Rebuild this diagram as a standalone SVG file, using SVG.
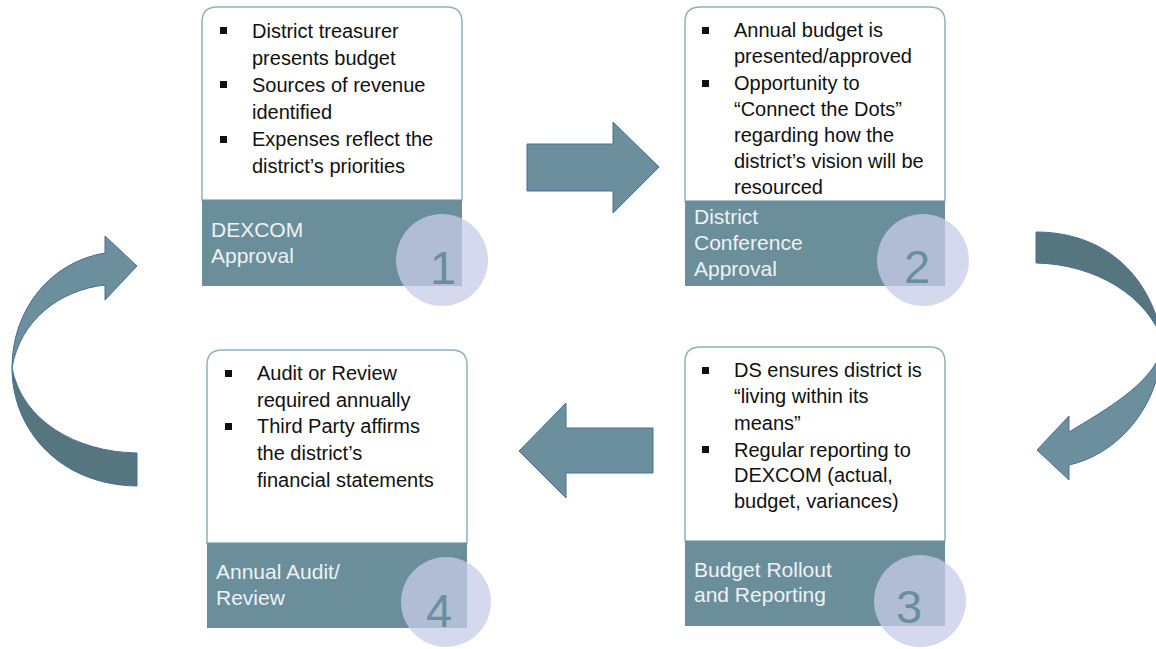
<svg xmlns="http://www.w3.org/2000/svg" width="1156" height="649" viewBox="0 0 1156 649">
<style>
.card{fill:#ffffff;stroke:#8fb0bc;stroke-width:1.5}
.band{fill:#6b8e9b}
.item{font-family:"Liberation Sans",Arial,sans-serif;font-size:20px;fill:#111111}
.lab{font-family:"Liberation Sans",Arial,sans-serif;font-size:21px;fill:#eef2f4}
.num{font-family:"Liberation Sans",Arial,sans-serif;font-size:47px;fill:#6a8f9c;text-anchor:middle}
.disc{fill:#c7cce8;fill-opacity:0.75}
.bul{fill:#111111}
.arr{fill:#6b8f9c;stroke:#4a6c9b;stroke-width:1}
.arrd{fill:#56767f;stroke:#4a6c9b;stroke-width:1}
</style>
<rect width="1156" height="649" fill="#ffffff"/>
<g id="connectors">
<path class="arr" d="M527,144 H613 V122 L659,167 L613,213 V191 H527 Z"/>
<path class="arr" d="M653,428 H566 V403 L519,451 L566,498 V473 H653 Z"/>
<path class="arrd" d="M12,368 C12,430 60,485 137,486 V453 C75,452 22,420 12,368 Z"/>
<path class="arr" d="M12,368 C12,310 50,262 105,253 V236 L137,266 L105,300 V285 C60,290 20,320 12,368 Z"/>
<path class="arrd" d="M1036,232 C1100,232 1150,270 1163,342 C1148,296 1095,264 1036,263 Z"/>
<path class="arr" d="M1163,342 C1160,380 1105,410 1069,432 V416 L1037,450 L1069,480 V465 C1115,455 1160,410 1163,342 Z"/>
</g>
<g id="node1">
<path class="card" d="M202,200 V22 Q202,7 217,7 H447 Q462,7 462,22 V200 Z"/>
<rect class="band" x="202" y="200" width="260" height="86"/>
<rect class="bul" x="220" y="27" width="7" height="7"/>
<rect class="bul" x="220" y="81" width="7" height="7"/>
<rect class="bul" x="220" y="136" width="7" height="7"/>
<text class="item" x="252" y="38">District treasurer</text>
<text class="item" x="252" y="65">presents budget</text>
<text class="item" x="252" y="92">Sources of revenue</text>
<text class="item" x="252" y="119">identified</text>
<text class="item" x="252" y="146">Expenses reflect the</text>
<text class="item" x="252" y="173">district’s priorities</text>
<text class="lab" x="211" y="237">DEXCOM</text>
<text class="lab" x="211" y="263">Approval</text>
<circle class="disc" cx="442" cy="260" r="46"/>
<text class="num" x="443" y="284">1</text>
</g>
<g id="node2">
<path class="card" d="M685,201 V22 Q685,7 700,7 H930 Q945,7 945,22 V201 Z"/>
<rect class="band" x="685" y="201" width="260" height="85"/>
<rect class="bul" x="702" y="27" width="7" height="7"/>
<rect class="bul" x="702" y="80" width="7" height="7"/>
<text class="item" x="734" y="37">Annual budget is</text>
<text class="item" x="734" y="63">presented/approved</text>
<text class="item" x="734" y="90">Opportunity to</text>
<text class="item" x="734" y="116">“Connect the Dots”</text>
<text class="item" x="734" y="142">regarding how the</text>
<text class="item" x="734" y="168">district’s vision will be</text>
<text class="item" x="734" y="194">resourced</text>
<text class="lab" x="694" y="224">District</text>
<text class="lab" x="694" y="250">Conference</text>
<text class="lab" x="694" y="276">Approval</text>
<circle class="disc" cx="923" cy="260" r="46"/>
<text class="num" x="917" y="283">2</text>
</g>
<g id="node3">
<path class="card" d="M685,541 V362 Q685,347 700,347 H930 Q945,347 945,362 V541 Z"/>
<rect class="band" x="685" y="541" width="260" height="85"/>
<rect class="bul" x="702" y="367" width="7" height="7"/>
<rect class="bul" x="702" y="446" width="7" height="7"/>
<text class="item" x="734" y="377">DS ensures district is</text>
<text class="item" x="734" y="403">“living within its</text>
<text class="item" x="734" y="430">means”</text>
<text class="item" x="734" y="457">Regular reporting to</text>
<text class="item" x="734" y="482">DEXCOM (actual,</text>
<text class="item" x="734" y="508">budget, variances)</text>
<text class="lab" x="694" y="577">Budget Rollout</text>
<text class="lab" x="694" y="602">and Reporting</text>
<circle class="disc" cx="920" cy="601" r="46"/>
<text class="num" x="909" y="623">3</text>
</g>
<g id="node4">
<path class="card" d="M207,543 V365 Q207,350 222,350 H452 Q467,350 467,365 V543 Z"/>
<rect class="band" x="207" y="543" width="260" height="85"/>
<rect class="bul" x="225" y="370" width="7" height="7"/>
<rect class="bul" x="225" y="423" width="7" height="7"/>
<text class="item" x="257" y="380">Audit or Review</text>
<text class="item" x="257" y="407">required annually</text>
<text class="item" x="257" y="433">Third Party affirms</text>
<text class="item" x="257" y="460">the district’s</text>
<text class="item" x="257" y="487">financial statements</text>
<text class="lab" x="216" y="579">Annual Audit/</text>
<text class="lab" x="216" y="605">Review</text>
<circle class="disc" cx="446" cy="602" r="45"/>
<text class="num" x="439" y="627">4</text>
</g>
</svg>
